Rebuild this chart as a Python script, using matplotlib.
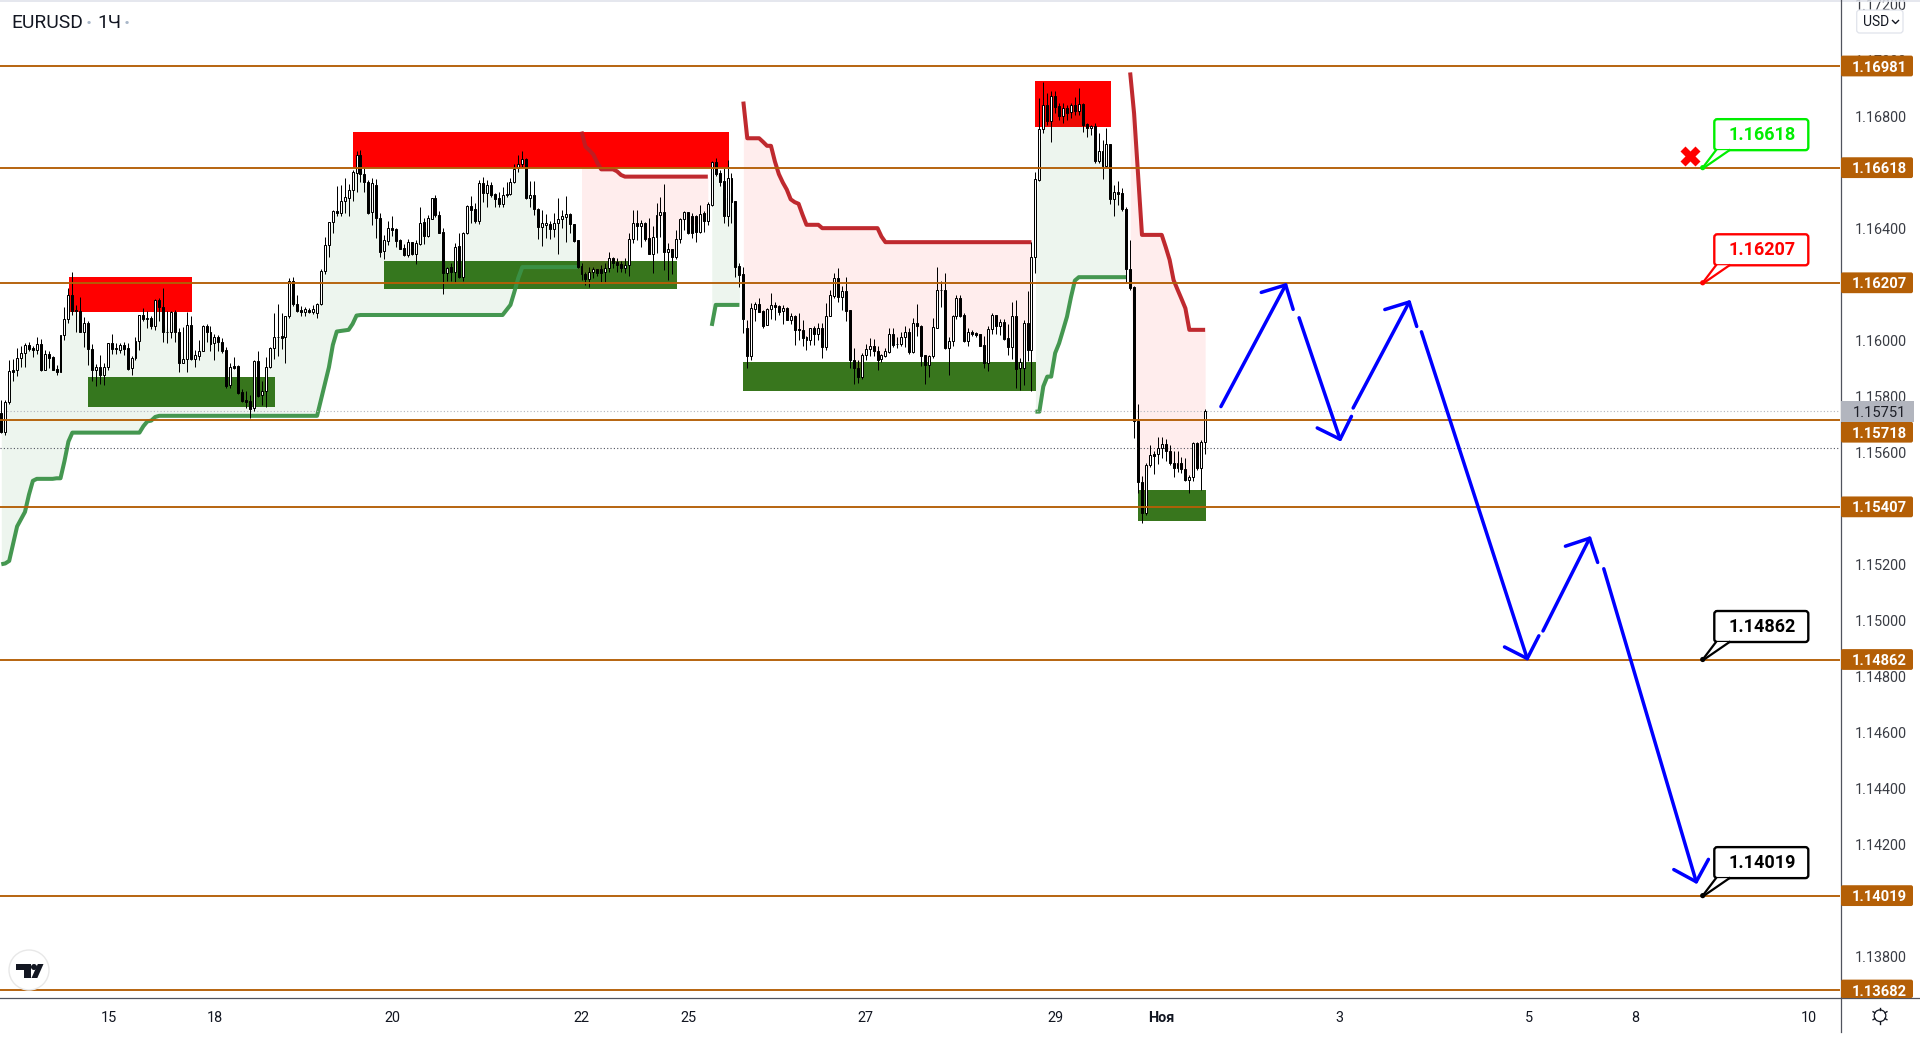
import numpy as np
import matplotlib
matplotlib.use("Agg")
import matplotlib.pyplot as plt
from matplotlib.lines import Line2D
from matplotlib.patches import Circle, FancyBboxPatch, Polygon, Rectangle
from matplotlib.transforms import Affine2D

plt.rcParams['font.family'] = ['Roboto', 'DejaVu Sans']

# Candles in points above 1.00000 (15742 = 1.15742)
opens = [
15742,15676,15780,15895,15894,15937,15955,15986,15974,15968,
15989,15897,15953,15942,15900,15890,16019,16076,16163,16110,
16105,16030,16063,15970,15897,15906,15878,15906,15991,15974,
15968,15986,15974,15902,15937,15999,16091,16078,16081,16051,
16146,16120,16032,16030,16103,16032,15919,15934,16056,15934,
15947,15963,16053,16031,15991,16013,15995,15966,15843,15909,
15909,15818,15789,15786,15759,15927,15806,15822,15906,15974,
16012,16018,16015,16087,16215,16131,16110,16103,16110,16103,
16098,16131,16250,16341,16423,16463,16455,16499,16511,16537,
16600,16662,16595,16566,16458,16556,16437,16319,16357,16401,
16398,16360,16331,16306,16351,16311,16345,16424,16374,16436,
16508,16448,16387,16243,16262,16247,16337,16229,16383,16481,
16469,16427,16562,16526,16556,16524,16508,16489,16519,16523,
16566,16618,16632,16648,16511,16519,16470,16407,16414,16417,
16400,16419,16433,16443,16451,16416,16360,16266,16237,16222,
16247,16255,16255,16247,16259,16294,16281,16273,16261,16269,
16362,16419,16411,16419,16366,16311,16372,16448,16458,16318,
16326,16300,16362,16433,16460,16445,16445,16388,16455,16429,
16485,16639,16598,16570,16447,16580,16499,16267,16239,16045,
15947,16115,16132,16105,16055,16112,16127,16125,16105,16118,
16075,16089,16041,16039,16014,16003,16045,16025,16045,15977,
16087,16160,16224,16158,16177,16110,15932,15902,15869,15949,
15970,15982,15963,15934,15947,15961,16025,15989,15987,16012,
16032,15961,16063,16053,15949,15912,15944,16047,16180,16182,
15974,15999,16087,16152,16093,16000,16030,16027,16025,15986,
15922,16041,16091,16053,16068,16009,15976,16089,15901,15902,
16063,15968,16298,16574,16755,16842,16783,16874,16838,16804,
16831,16815,16841,16821,16846,16774,16758,16765,16643,16678,
16624,16703,16506,16530,16527,16470,16255,16192,15712,15494,
15384,15555,15595,15595,15616,15631,15605,15563,15547,15563,
15541,15503,15515,15634,15547,15637]
highs = [
15789,15789,15932,15936,15974,15982,15991,15995,15982,16013,
16007,15968,15963,15944,15914,16020,16119,16188,16246,16126,
16156,16084,16069,15988,15917,15950,15920,15991,16024,15991,
15991,15994,15991,15946,16015,16093,16116,16105,16087,16149,
16152,16188,16105,16108,16110,16045,16049,16103,16090,15968,
16003,16057,16059,16051,16024,16021,16009,15977,15920,15941,
15914,15827,15821,15807,15932,15964,15857,15941,15977,16099,
16132,16099,16089,16224,16227,16164,16125,16122,16116,16128,
16134,16255,16369,16425,16467,16552,16556,16580,16560,16610,
16679,16681,16616,16574,16580,16576,16455,16378,16427,16445,
16401,16362,16345,16362,16354,16360,16476,16437,16449,16511,
16520,16463,16401,16262,16279,16350,16383,16390,16483,16517,
16491,16574,16583,16574,16568,16529,16532,16550,16568,16580,
16631,16663,16677,16651,16572,16570,16475,16467,16451,16429,
16455,16511,16467,16517,16455,16417,16360,16279,16247,16265,
16262,16255,16270,16279,16318,16298,16294,16286,16294,16383,
16466,16466,16431,16425,16437,16410,16491,16512,16558,16348,
16328,16395,16437,16463,16461,16455,16449,16485,16463,16497,
16643,16651,16610,16616,16645,16598,16499,16276,16265,16075,
16134,16140,16152,16110,16116,16170,16140,16128,16128,16120,
16099,16093,16099,16075,16018,16045,16053,16065,16063,16134,
16182,16241,16259,16194,16227,16110,15974,15932,15958,15990,
16009,16006,15980,15952,15974,16045,16045,16013,16033,16051,
16045,16081,16132,16057,15950,15950,16081,16263,16212,16241,
16015,16093,16164,16164,16099,16045,16039,16033,16025,16018,
16051,16099,16093,16077,16077,16061,16140,16144,15940,16075,
16176,16354,16604,16866,16923,16884,16890,16890,16848,16848,
16842,16848,16872,16902,16848,16777,16771,16777,16741,16717,
16759,16703,16556,16571,16545,16479,16360,16194,15774,15518,
15565,15628,15605,15655,15655,15650,15628,15605,15607,15585,
15581,15519,15640,15638,15646,15757]
lows = [
15670,15664,15775,15858,15873,15906,15905,15962,15943,15953,
15893,15894,15901,15894,15876,15888,16003,16065,16093,16030,
16030,15976,15914,15858,15837,15846,15843,15894,15953,15952,
15956,15950,15894,15878,15933,15968,16069,16045,16041,16037,
16069,15994,15991,16009,15994,15887,15919,15890,15932,15908,
15930,15963,15994,15965,15930,15962,15958,15831,15831,15899,
15811,15780,15759,15723,15748,15799,15771,15762,15902,15936,
15944,15971,15922,16083,16125,16101,16087,16087,16098,16095,
16081,16129,16238,16300,16383,16445,16445,16455,16447,16500,
16532,16566,16532,16452,16413,16366,16300,16292,16342,16374,
16336,16326,16303,16300,16306,16274,16342,16345,16369,16433,
16443,16383,16167,16214,16214,16211,16223,16214,16381,16419,
16419,16417,16497,16476,16514,16476,16476,16479,16514,16520,
16562,16604,16621,16505,16479,16449,16362,16339,16366,16362,
16372,16310,16401,16354,16383,16354,16259,16217,16199,16193,
16223,16231,16211,16211,16247,16259,16247,16247,16243,16231,
16350,16360,16336,16357,16310,16243,16312,16372,16253,16217,
16238,16291,16350,16395,16380,16368,16354,16383,16389,16413,
16482,16588,16554,16419,16410,16419,16226,16193,16027,15904,
15932,16069,16101,16045,16055,16077,16075,16093,16061,16075,
16061,15986,16003,15980,15968,15986,15986,16003,15938,15968,
16087,16152,16137,16110,16069,15902,15846,15849,15864,15932,
15944,15944,15896,15924,15942,15956,15977,15974,15980,15977,
15953,15956,16018,15911,15846,15870,15938,16045,16122,15970,
15878,15982,16077,16084,15997,15982,16018,16013,15982,15902,
15893,16025,16025,16021,16003,15950,15934,15833,15825,15843,
15926,15819,16243,16572,16741,16771,16711,16812,16788,16777,
16788,16794,16806,16806,16747,16729,16733,16634,16636,16578,
16622,16489,16446,16485,16465,16211,16182,15652,15456,15351,
15378,15549,15524,15561,15581,15571,15555,15512,15533,15527,
15501,15458,15501,15537,15468,15596]
closes = [
15676,15783,15893,15889,15938,15956,15984,15971,15968,15989,
15896,15953,15940,15896,15890,16020,16077,16163,16107,16105,
16030,16063,15970,15896,15906,15878,15906,15991,15972,15970,
15984,15971,15900,15938,15999,16091,16078,16081,16051,16144,
16119,16030,16030,16102,16030,15920,15934,16056,15934,15949,
15963,16053,16030,15987,16013,15994,15964,15840,15906,15902,
15815,15786,15780,15757,15927,15803,15822,15906,15974,16013,
16014,16011,16088,16215,16130,16105,16101,16113,16101,16112,
16132,16250,16341,16424,16463,16455,16499,16512,16537,16601,
16662,16594,16566,16456,16564,16437,16318,16360,16401,16395,
16357,16329,16306,16351,16310,16349,16422,16374,16437,16508,
16448,16385,16243,16261,16247,16336,16229,16383,16481,16467,
16427,16562,16526,16556,16522,16507,16489,16519,16524,16566,
16612,16632,16648,16511,16519,16469,16407,16419,16419,16400,
16419,16433,16444,16451,16417,16357,16265,16237,16219,16247,
16255,16243,16243,16259,16294,16276,16270,16261,16269,16362,
16419,16411,16419,16364,16311,16372,16448,16458,16318,16326,
16300,16362,16433,16460,16383,16383,16388,16454,16429,16487,
16639,16595,16568,16447,16580,16497,16265,16235,16077,15946,
16116,16132,16101,16053,16113,16128,16122,16102,16118,16075,
16089,16039,16037,16009,16003,16045,16025,16045,15977,16089,
16163,16224,16158,16177,16108,15930,15901,15869,15949,15971,
15982,15962,15932,15949,15963,16025,15984,15987,16013,16031,
15961,16063,16051,15946,15912,15944,16049,16181,16182,15974,
15999,16089,16152,16089,16000,16031,16025,16021,15983,15922,
16043,16093,16053,16066,16007,15976,16089,15900,15925,16063,
15968,16298,16578,16755,16841,16783,16874,16836,16804,16830,
16812,16841,16821,16846,16771,16758,16766,16643,16678,16624,
16703,16506,16530,16524,16470,16255,16188,15712,15494,15384,
15556,15591,15590,15616,15631,15605,15563,15547,15563,15541,
15503,15515,15634,15547,15637,15751]

# Trend stop segments: first bar, per-bar values in points
green_1_start = 0
green_1 = ([15202,15205,15214,15275,15337,15363,15389,15450,15500] + [15507]*5 + [15509]*2 +
           [15570,15640] + [15672]*18 + [15695,15712,15715,15728] + [15732]*41 +
           [15790,15848,15905,15985,16033,16035,16037,16039,16060,16090] + [16092]*37 +
           [16110,16128,16175,16225] + [16263]*15)
red_1_start = 147
red_1 = [16747,16693,16680,16665,16635] + [16612]*4 + [16605,16592] + [16586]*22
green_2_start = 180
green_2 = [16053] + [16128]*7
red_2_start = 188
red_2 = ([16854] + [16723]*4 + [16710,16696,16696,16640,16595,16565,16540,16505,16495,16489,16450] +
         [16414]*4 + [16402]*15 + [16372] + [16352]*38)
green_3_start = 262
green_3 = [15747,15747,15837,15872,15872,15956,15991,16038,16086,16155,16215] + [16227]*13
red_3_start = 286
red_3 = [16958,16812,16595] + [16378]*6 + [16335,16289,16217,16183,16150,16116] + [16039]*5

# Zones: (first bar, last bar, low points, high points)
red_zones = [(17.25, 48.3, 16104, 16229), (89.1, 184.4, 16616, 16747), (261.9, 281.2, 16764, 16928)]
green_zones = [(22.0, 69.3, 15765, 15872), (97.0, 171.2, 16186, 16285),
               (188.0, 262.1, 15822, 15925), (288.0, 305.2, 15358, 15468)]

levels = [1.16981, 1.16618, 1.16207, 1.15718, 1.15407, 1.14862, 1.14019, 1.13682]
level_labels = ['1.16981', '1.16618', '1.16207', '1.15718', '1.15407', '1.14862', '1.14019', '1.13682']
last_price = 1.15751
dotted_price = 1.15617

y_ticks = [1.172, 1.170, 1.168, 1.164, 1.160, 1.158, 1.156, 1.152, 1.150, 1.148, 1.146, 1.144, 1.142, 1.138]
x_tick_bars = [27.2, 54.1, 99, 146.9, 174, 219, 267, 294, 339, 387, 414, 458]
x_tick_labels = ['15', '18', '20', '22', '25', '27', '29', 'Ноя', '3', '5', '8', '10']

# Forecast arrows: start/end bar and start/end price in points
arrow_x0 = [309.0, 328.8, 342.5, 359.8, 390.6, 406.0]
arrow_x1 = [325.7, 339.4, 357.0, 386.8, 402.7, 429.6]
arrow_y0 = [15765, 16082, 15760, 16032, 14964, 15186]
arrow_y1 = [16207, 15640, 16146, 14857, 15303, 14060]

callout_prices = [1.16618, 1.16207, 1.14862, 1.14019]
callout_labels = ['1.16618', '1.16207', '1.14862', '1.14019']
callout_colors = ['#00EE00', '#FF0000', '#000000', '#000000']
cross_bar, cross_price = 427.8, 1.16658


def pr(v):
    return 1 + np.asarray(v, dtype=float) / 1e5


W, H = 1920, 1044
fig = plt.figure(figsize=(W / 100, H / 100), dpi=100, facecolor='white')
AX_R, AX_B = 1840, 998
ax = fig.add_axes([0, (H - AX_B) / H, AX_R / W, AX_B / H])
STEP = 3.947
ax.set_xlim(-1.3 / STEP, (AX_R - 1.3) / STEP)
ax.set_ylim(1.136535, 1.172166)
for s in ax.spines.values():
    s.set_visible(False)

o, hi, lo, c = pr(opens), pr(highs), pr(lows), pr(closes)
idx = np.arange(len(o))
mid = (o + c) / 2

for b0, b1, l0, h0 in red_zones:
    ax.add_patch(Rectangle((b0, pr(l0)), b1 - b0, pr(h0) - pr(l0), fc='#FF0000', ec='none', zorder=1))
for b0, b1, l0, h0 in green_zones:
    ax.add_patch(Rectangle((b0, pr(l0)), b1 - b0, pr(h0) - pr(l0), fc='#38761D', ec='none', zorder=1))

segments = [(green_1_start, green_1, '#1B8A2F', '#3B9247', 0.08), (red_1_start, red_1, '#FF0000', '#BC1E24', 0.07),
            (green_2_start, green_2, '#1B8A2F', '#3B9247', 0.08), (red_2_start, red_2, '#FF0000', '#BC1E24', 0.07),
            (green_3_start, green_3, '#1B8A2F', '#3B9247', 0.08), (red_3_start, red_3, '#FF0000', '#BC1E24', 0.07)]
for start, vals, fill_c, line_c, a in segments:
    xs = np.arange(start, start + len(vals))
    ys = pr(vals)
    ax.fill_between(xs, ys, mid[np.clip(xs, 0, len(mid) - 1)], color=fill_c, alpha=a, lw=0, zorder=2)
    ax.plot(xs, ys, color=line_c, lw=2.9, alpha=0.95, zorder=3, solid_joinstyle='round', solid_capstyle='butt')

for p in [last_price]:
    ax.axhline(p, color='#B2B5BE', lw=0.8, ls=(0, (1, 2)), zorder=3)
ax.axhline(dotted_price, color='#50535E', lw=0.8, ls=(0, (1, 2)), zorder=3)

ax.vlines(idx, lo, hi, color='black', lw=0.72, zorder=4)
up = c >= o
ax.bar(idx, np.abs(c - o), bottom=np.minimum(o, c), width=0.5,
       color=np.where(up, 'white', 'black').tolist(), edgecolor='black', linewidth=0.72, zorder=5)

for lv in levels:
    ax.axhline(lv, color='#B45F06', lw=1.35, zorder=6)

for x0, x1, y0, y1 in zip(arrow_x0, arrow_x1, arrow_y0, arrow_y1):
    ax.annotate('', xy=(x1, pr(y1)), xytext=(x0, pr(y0)), zorder=7,
                arrowprops=dict(arrowstyle='->,head_length=1.0,head_width=1.0', mutation_scale=13,
                                color='#0000FF', lw=2.5, shrinkA=0, shrinkB=0))

ax.plot([cross_bar], [cross_price], marker='X', ms=14, color='#FF0000', mec='none', zorder=8)

ax.yaxis.tick_right()
ax.set_yticks(y_ticks)
ax.set_yticklabels([f'{t:.5f}' for t in y_ticks])
ax.tick_params(axis='y', length=0, pad=10.5, labelsize=10.4, labelcolor='#3A3D45')
ax.set_xticks(x_tick_bars)
ax.set_xticklabels(x_tick_labels)
ax.tick_params(axis='x', length=0, pad=9.2, labelsize=10.4, labelcolor='#131722')
for t in ax.get_xticklabels():
    if t.get_text() == 'Ноя':
        t.set_fontweight('bold')

pix = Affine2D().scale(1, -1).translate(0, H)


def price_y(p):
    return (1.172166 - p) * AX_B / (1.172166 - 1.136535)


def add(a):
    a.set_transform(pix)
    a.set_zorder(20)
    fig.add_artist(a)
    return a


def txt(x, y, s, **kw):
    kw.setdefault('ha', 'center')
    kw.setdefault('va', 'center')
    t = fig.text(x, y, s, transform=pix, zorder=22, **kw)
    return t


# Chrome lines
add(Line2D([0, 1920], [0.5, 0.5], color='#E0E3EB', lw=1.2))
add(Line2D([AX_R + .5, AX_R + .5], [0, 1032], color='#50535E', lw=0.9))
add(Line2D([0, W], [AX_B - .5, AX_B - .5], color='#50535E', lw=0.9))

# Price badges
badge_centers = [price_y(v) for v in levels]
badge_centers[3] = 432.2
for cy, lab in zip(badge_centers, level_labels):
    top = cy - 10.4
    bot = min(cy + 10.4, AX_B)
    add(FancyBboxPatch((AX_R + 1, top), 72, bot - top, boxstyle='round,pad=0,rounding_size=2',
                       fc='#B45F06', ec='none'))
    txt(1879, cy + 1.6, lab, color='white', fontsize=10.6, fontweight='bold')
add(Rectangle((AX_R + 1, 401), 73, 20.7, fc='#B2B5BE', ec='none'))
txt(1879, 412.8, f'{last_price:.5f}', color='#1E2028', fontsize=10.6)

# Callouts
for p, lab, col in zip(callout_prices, callout_labels, callout_colors):
    y = price_y(p)
    add(FancyBboxPatch((1714.3, y - 48.5), 94, 31, boxstyle='round,pad=0,rounding_size=3',
                       fc='white', ec=col, lw=1.7))
    add(Polygon([(1715.5, y - 17.5), (1702.7, y), (1729.5, y - 17.5)], closed=True, fc='white', ec='none'))
    add(Line2D([1716, 1703.5], [y - 17.5, y - 1], color=col, lw=1.6))
    add(Line2D([1729.5, 1705.5], [y - 17.5, y - 1], color=col, lw=1.6))
    add(Circle((1702.7, y), 2.6, fc=col, ec='none'))
    txt(1761.7, y - 33, lab, color=col, fontsize=13, fontweight='bold')

# Title
txt(11, 23, 'EURUSD', color='#131722', fontsize=13.9, ha='left')
txt(89, 23, '·', color='#A9B7C9', fontsize=15, fontweight='bold')
txt(97, 23, '1Ч', color='#131722', fontsize=13.9, ha='left')
txt(126.5, 23, '·', color='#A9B7C9', fontsize=15, fontweight='bold')

# USD button
add(FancyBboxPatch((1856.7, 10), 46.3, 23, boxstyle='round,pad=0,rounding_size=3',
                   fc='white', ec='#E0E3EB', lw=0.9))
txt(1863, 22.5, 'USD', color='#131722', fontsize=10, ha='left')
add(Line2D([1892.5, 1895.5, 1898.5], [20.5, 23.5, 20.5], color='#131722', lw=1.0))

# Gear icon
gx, gy = 1880, 1015.7
add(Circle((gx, gy), 5.8, fc='white', ec='#131722', lw=0.9))
for ang in np.deg2rad(np.arange(0, 360, 60) + 30):
    add(Line2D([gx + 5.8 * np.cos(ang), gx + 8 * np.cos(ang)],
               [gy + 5.8 * np.sin(ang), gy + 8 * np.sin(ang)], color='#131722', lw=1.0))

# Logo
add(Circle((29, 970), 20, fc='white', ec='#E8E8E8', lw=1.0))
add(Polygon([(16, 964), (30.5, 964), (30.5, 978), (24, 978), (24, 970), (16, 970)], closed=True, fc='#131722', ec='none'))
add(Circle((34, 967), 3, fc='#131722', ec='none'))
add(Polygon([(37.8, 964), (43.5, 964), (37.3, 978), (31.5, 978)], closed=True, fc='#131722', ec='none'))

fig.savefig('out.png', dpi=100, facecolor='white')
